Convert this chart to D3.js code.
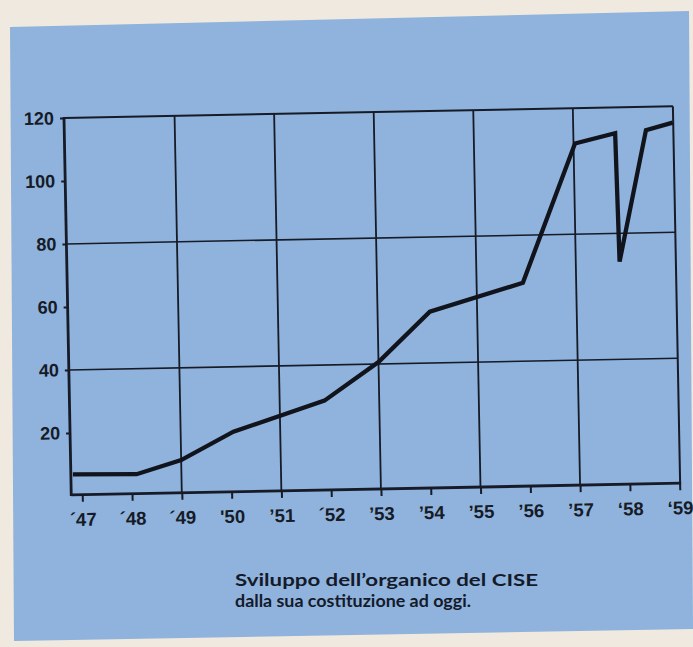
<!DOCTYPE html>
<html>
<head>
<meta charset="utf-8">
<script src="https://cdn.jsdelivr.net/npm/d3@7"></script>
<style>
  body { margin: 0; background: #efe9e0; }
  svg { display: block; }
  .tick text { font-family: "Liberation Sans", Arial, sans-serif; font-weight: bold; fill: #161b27; }
</style>
</head>
<body>
<svg width="693" height="647"></svg>
<script>
// staff of CISE (fractional years)
var years = [1946.82, 1948.1, 1949.0, 1950.06, 1951.9, 1953.0, 1954.05, 1955.93, 1957.03, 1957.84, 1957.88, 1958.46, 1959.0];
var staff = [6.8, 6.5, 10.7, 19.4, 28.7, 40.6, 56.3, 64.9, 108.8, 111.8, 71, 112.6, 114.8];

var tickYears = [1947, 1948, 1949, 1950, 1951, 1952, 1953, 1954, 1955, 1956, 1957, 1958, 1959];
var tickLabels = ["´47", "´48", "´49", "'50", "’51", "´52", "’53", "’54", "’55", "’56", "’57", "‘58", "‘59"];
var yTicks = [20, 40, 60, 80, 100, 120];
var hGrid = [40, 80];
var vGrid = [1949, 1951, 1953, 1955, 1957];
var titleLines = ["Sviluppo dell’organico del CISE", "dalla sua costituzione ad oggi."];
var titleWidths = [303, 236];

document.addEventListener("DOMContentLoaded", function () {

  init();

  function init() {
    var svg = d3.select("svg");
    var ink = "#161b27";

    // blue paper
    svg.append("path")
      .attr("d", "M10,27 L689,11 L693,629 L14,641 Z")
      .style("fill", "#8fb3dc");

    var left = 64, right = 673, top = 118, bottom = 495;

    var x = d3.scaleLinear().domain([1947, 1959]).range([75, 672.5]);
    var y = d3.scaleLinear().domain([0, 120]).range([496, 118]);

    // the whole drawing sits a bit crooked on the page
    var g = svg.append("g").attr("transform", "rotate(-1.1,63,118)");

    g.selectAll("line.hgrid")
      .data(hGrid)
      .enter()
      .append("line")
      .attr("class", "hgrid")
      .attr("x1", left).attr("x2", right)
      .attr("y1", function (d) { return y(d); })
      .attr("y2", function (d) { return y(d); })
      .style("stroke", ink).style("stroke-width", 1.6);

    g.selectAll("line.vgrid")
      .data(vGrid)
      .enter()
      .append("line")
      .attr("class", "vgrid")
      .attr("x1", function (d) { return x(d); })
      .attr("x2", function (d) { return x(d); })
      .attr("y1", top).attr("y2", bottom)
      .style("stroke", ink).style("stroke-width", 1.8);

    // frame: thin top and right, heavier axes
    g.append("line").attr("x1", left).attr("x2", right).attr("y1", top).attr("y2", top)
      .style("stroke", ink).style("stroke-width", 2);
    g.append("line").attr("x1", right).attr("x2", right).attr("y1", top).attr("y2", bottom)
      .style("stroke", ink).style("stroke-width", 2);
    g.append("line").attr("x1", left).attr("x2", left).attr("y1", top - 1).attr("y2", bottom + 1)
      .style("stroke", ink).style("stroke-width", 2.8);
    g.append("line").attr("x1", left).attr("x2", right + 1).attr("y1", bottom).attr("y2", bottom)
      .style("stroke", ink).style("stroke-width", 2.8);

    var yAxis = d3.axisLeft(y).tickValues(yTicks).tickSize(4).tickPadding(6);
    g.append("g")
      .attr("transform", "translate(" + left + ",0)")
      .call(yAxis)
      .call(function (a) { a.select(".domain").remove(); })
      .call(function (a) {
        a.selectAll("line").style("stroke", ink).style("stroke-width", 2);
        a.selectAll("text").style("font-size", "18px");
      });

    var xAxis = d3.axisBottom(x).tickValues(tickYears).tickSize(7).tickPadding(11)
      .tickFormat(function (d, i) { return tickLabels[i]; });
    g.append("g")
      .attr("transform", "translate(0," + bottom + ")")
      .call(xAxis)
      .call(function (a) { a.select(".domain").remove(); })
      .call(function (a) {
        a.selectAll("line").style("stroke", ink).style("stroke-width", 2);
        a.selectAll("text").style("font-size", "18.5px");
      });

    var line = d3.line()
      .x(function (d) { return x(d); })
      .y(function (d, i) { return y(staff[i]); });

    g.append("path")
      .datum(years)
      .attr("d", line)
      .style("fill", "none")
      .style("stroke", "#11141c")
      .style("stroke-width", 4.3)
      .style("stroke-linejoin", "miter");

    svg.selectAll("text.title")
      .data(titleLines)
      .enter()
      .append("text")
      .attr("class", "title")
      .attr("x", 235)
      .attr("y", function (d, i) { return 586 + i * 21; })
      .attr("textLength", function (d, i) { return titleWidths[i]; })
      .attr("lengthAdjust", "spacingAndGlyphs")
      .style("font-family", "Lato, 'Open Sans', sans-serif")
      .style("font-weight", "bold")
      .style("font-size", "17.5px")
      .style("fill", "#141a2a")
      .text(function (d) { return d; });
  }

});
</script>
</body>
</html>
